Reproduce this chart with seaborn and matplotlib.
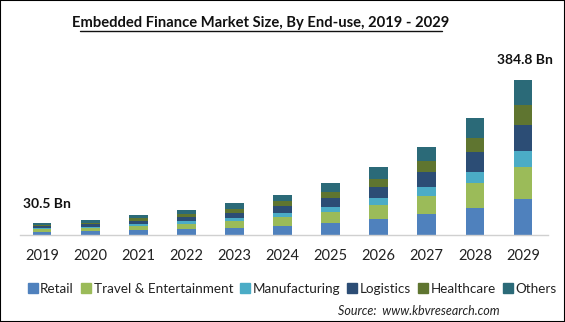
import matplotlib
matplotlib.use("Agg")
import matplotlib.pyplot as plt
import seaborn as sns
import pandas as pd
import numpy as np
from matplotlib.patches import Rectangle
from matplotlib.lines import Line2D

years = ["2019", "2020", "2021", "2022", "2023", "2024", "2025", "2026", "2027", "2028", "2029"]
segments = ["Retail", "Travel & Entertainment", "Manufacturing", "Logistics", "Healthcare", "Others"]
retail = [7.5, 8.9, 12.0, 15.0, 18.2, 23.5, 29.8, 39.7, 53.0, 67.9, 89.4]
travel = [6.2, 7.6, 10.2, 12.8, 16.5, 20.5, 27.3, 34.8, 44.7, 62.1, 79.4]
manufacturing = [3.2, 3.8, 5.0, 6.4, 8.3, 10.2, 12.4, 17.4, 22.3, 26.5, 39.7]
logistics = [5.0, 6.1, 8.1, 10.1, 12.4, 17.0, 22.3, 27.3, 36.4, 49.6, 64.5]
healthcare = [3.6, 4.4, 5.9, 7.3, 9.1, 12.0, 14.9, 19.9, 28.1, 35.6, 49.6]
others = [5.0, 6.4, 8.5, 10.4, 15.8, 16.1, 22.3, 29.8, 33.9, 48.8, 62.2]
colors = ["#4F81BD", "#9BBB59", "#4BACC6", "#2C4D75", "#5F7530", "#2B6A78"]
annot_first = "30.5 Bn"
annot_last = "384.8 Bn"
title = "Embedded Finance Market Size, By End-use, 2019 - 2029"
source = "Source:  www.kbvresearch.com"

sns.set_theme(style="white")
plt.rcParams['font.family'] = ['Lato', 'DejaVu Sans']

series = [retail, travel, manufacturing, logistics, healthcare, others]
df = pd.DataFrame({name: vals for name, vals in zip(segments, series)}, index=years)
cum = df.cumsum(axis=1)

fig = plt.figure(figsize=(5.65, 3.22), dpi=100)
ax = fig.add_axes([20/565, (322-235)/322, (548-20)/565, (235-50)/322])

for name, col in reversed(list(zip(segments, colors))):
    sns.barplot(x=years, y=cum[name].values, color=col, width=0.39,
                saturation=1, ax=ax, zorder=2, linewidth=0, edgecolor="none")

ax.set_xlim(-0.46, 10.52)
ax.set_ylim(0, 459)
for s in ["top", "right", "left"]:
    ax.spines[s].set_visible(False)
ax.spines["bottom"].set_color("#D0D0D0")
ax.spines["bottom"].set_linewidth(1.0)
ax.set_yticks([])
ax.set_xlabel("")
ax.set_ylabel("")
ax.tick_params(axis="x", length=0, pad=10, labelsize=10.5, labelcolor="#222222")

totals = cum["Others"].values
ax.annotate(annot_first, xy=(0, totals[0]), xytext=(-14, 9), textcoords="offset points",
            ha="left", va="bottom", fontsize=10, fontweight="bold", color="#111111")
ax.annotate(annot_last, xy=(10, totals[-1]), xytext=(-19, 10), textcoords="offset points",
            ha="left", va="bottom", fontsize=10, fontweight="bold", color="#111111")

fig.text(261/565, 1-23/322, title, ha="center", va="center", fontsize=10.6, fontweight="bold",
         color="#111111")
# underline
fig.add_artist(Line2D([80/565, 442/565], [1-31/322, 1-31/322], color="#111111", lw=1.0))

handles = [Line2D([0], [0], marker="s", linestyle="none", markersize=6.5,
                  markerfacecolor=c, markeredgecolor=c) for c in colors]
fig.legend(handles, segments, loc="center", bbox_to_anchor=(292/565, 1-289/322), ncol=6,
           frameon=False, fontsize=9.7, handletextpad=0.15, columnspacing=0.5,
           handlelength=0.8, labelcolor="#222222", borderaxespad=0, borderpad=0)

fig.text(500/565, 1-311/322, source, ha="right", va="center", fontsize=9,
         style="italic", color="#222222")

fig.add_artist(Rectangle((0, 0), 1, 1, transform=fig.transFigure, fill=False,
                         edgecolor="black", linewidth=1.5))

fig.savefig("out.png", dpi=100)
